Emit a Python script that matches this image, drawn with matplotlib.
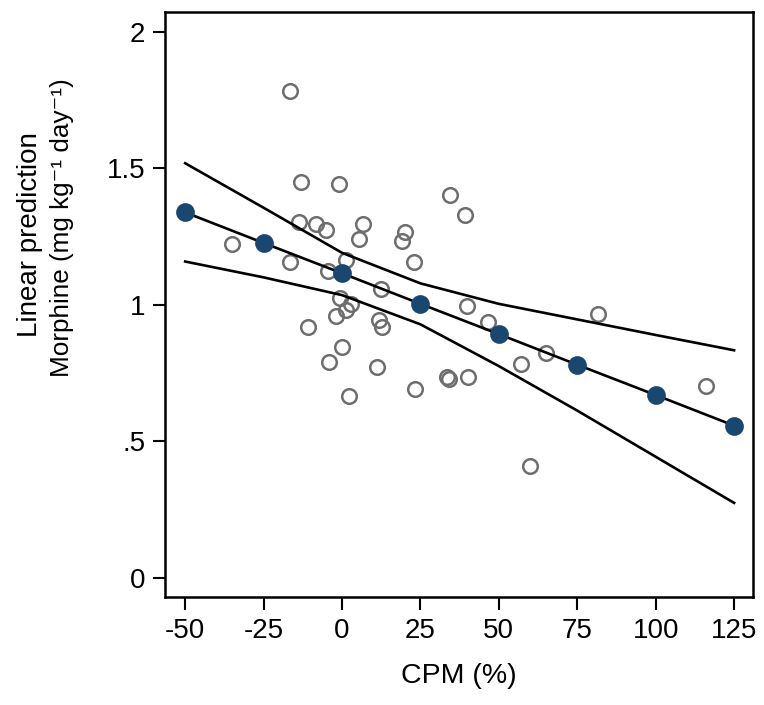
### packages
import matplotlib
matplotlib.use('Agg')
import matplotlib.pyplot as plt

### data -----------------------------------------------------------------
cpm_obs = [-16.6, -13.1, -1.1, -13.6, -8.3, -5.1, 6.6, 5.3, 20.0, 19.2,
           -35.0, -16.6, 23.1, 1.2, -4.6, 12.4, -0.6, 2.9, 1.2, -1.9,
           11.9, 12.6, -10.7, -0.1, -4.1, 11.3, 2.3, 23.4, 34.5, 39.3,
           39.8, 46.4, 81.5, 64.9, 57.1, 33.6, 34.2, 40.3, 60.0, 115.9]
morph_obs = [1.784, 1.451, 1.443, 1.302, 1.296, 1.274, 1.296, 1.240, 1.267, 1.234,
             1.221, 1.158, 1.158, 1.164, 1.122, 1.056, 1.023, 1.001, 0.981, 0.960,
             0.944, 0.917, 0.919, 0.844, 0.791, 0.771, 0.667, 0.690, 1.402, 1.329,
             0.995, 0.938, 0.966, 0.824, 0.783, 0.736, 0.727, 0.736, 0.409, 0.702]

cpm_grid  = [-50, -25, 0, 25, 50, 75, 100, 125]
pred      = [1.338, 1.226, 1.115, 1.003, 0.892, 0.780, 0.669, 0.557]
ci_upper  = [1.518, 1.355, 1.190, 1.078, 1.003, 0.946, 0.889, 0.833]
ci_lower  = [1.158, 1.100, 1.035, 0.928, 0.775, 0.612, 0.443, 0.274]

xticks = [-50, -25, 0, 25, 50, 75, 100, 125]
yticks = [0, 0.5, 1, 1.5, 2]
ytick_labels = ['0', '.5', '1', '1.5', '2']

### style ----------------------------------------------------------------
plt.rcParams['font.family'] = ['Liberation Sans', 'DejaVu Sans']

fig = plt.figure(figsize=(7.64, 7.05), dpi=100)
ax = fig.add_axes([0.2157, 0.1536, 0.7702, 0.8298])

### observations (hollow circles)
ax.plot(cpm_obs, morph_obs, 'o', mfc='none', mec='#6e6e6e', ms=10.5, mew=1.8, zorder=2)
### confidence band
ax.plot(cpm_grid, ci_upper, '-', color='black', lw=1.9, zorder=3)
ax.plot(cpm_grid, ci_lower, '-', color='black', lw=1.9, zorder=3)
### linear prediction
ax.plot(cpm_grid, pred, '-', color='black', lw=1.9, zorder=3)
ax.plot(cpm_grid, pred, 'o', color='#1a476f', ms=13.5, mew=0, zorder=4)

ax.set_xlim(-56.5, 131.1)
ax.set_ylim(-0.0696, 2.073)
ax.set_xticks(xticks)
ax.set_xticklabels([str(t) for t in xticks])
ax.set_yticks(yticks)
ax.set_yticklabels(ytick_labels)
ax.tick_params(axis='both', direction='out', length=9, width=1.5, labelsize=20)
ax.tick_params(axis='x', pad=6)
ax.tick_params(axis='y', pad=5)

for sp in ax.spines.values():
    sp.set_linewidth(1.8)

ax.set_xlabel('CPM (%)', fontsize=20.5, labelpad=14)
### y title: two lines, second one a bit tighter
fig.text(0.0393, 0.6667, 'Linear prediction', rotation=90, fontsize=20,
         ha='center', va='center')
fig.text(0.0805, 0.6773, 'Morphine (mg kg\u207b\u00b9 day\u207b\u00b9)', rotation=90,
         fontsize=18.8, ha='center', va='center')

fig.savefig('out.png', dpi=100)
